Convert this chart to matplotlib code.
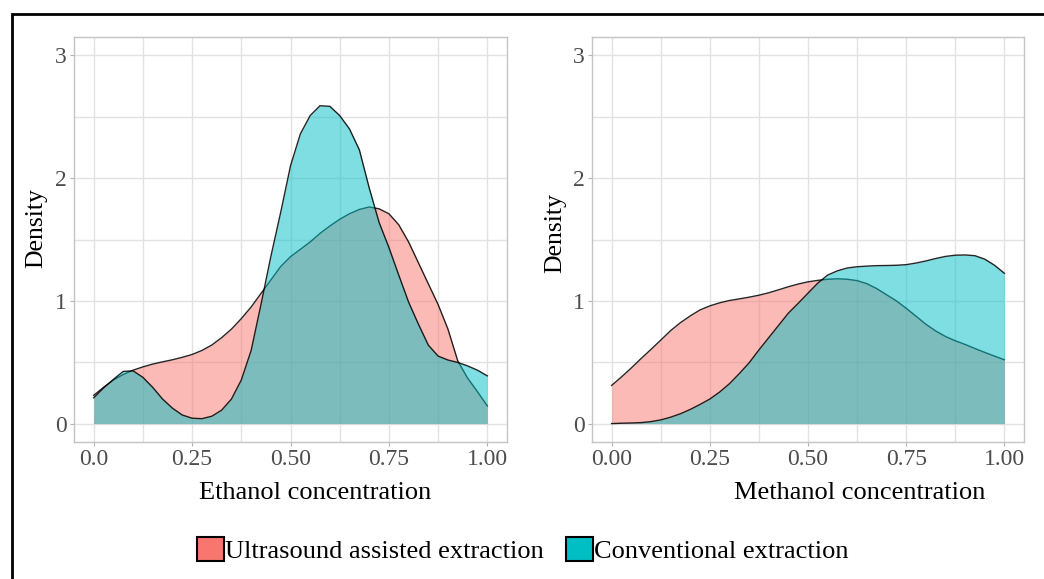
import matplotlib.pyplot as plt
import numpy as np
from matplotlib.patches import Patch, Rectangle

plt.rcParams['font.family'] = ['Liberation Serif', 'DejaVu Serif']

x_grid = np.linspace(0, 1, 41)

eth_ultrasound = [0.23, 0.295, 0.355, 0.40, 0.435, 0.462, 0.485, 0.503, 0.52, 0.54,
                  0.563, 0.596, 0.64, 0.70, 0.77, 0.855, 0.95, 1.06, 1.17, 1.28,
                  1.36, 1.42, 1.48, 1.55, 1.61, 1.665, 1.71, 1.745, 1.765, 1.75,
                  1.71, 1.62, 1.48, 1.31, 1.14, 0.97, 0.77, 0.51, 0.37, 0.26, 0.144]
eth_conventional = [0.21, 0.29, 0.36, 0.425, 0.43, 0.377, 0.295, 0.20, 0.126, 0.07,
                    0.044, 0.04, 0.06, 0.109, 0.20, 0.355, 0.596, 0.97, 1.36, 1.72,
                    2.10, 2.36, 2.51, 2.59, 2.585, 2.51, 2.40, 2.23, 1.92, 1.64,
                    1.435, 1.21, 0.99, 0.81, 0.64, 0.55, 0.518, 0.498, 0.47, 0.435, 0.389]

meth_ultrasound = [0.311, 0.38, 0.453, 0.53, 0.604, 0.68, 0.757, 0.822, 0.877, 0.926,
                   0.959, 0.984, 1.003, 1.016, 1.03, 1.046, 1.066, 1.09, 1.115, 1.137,
                   1.155, 1.167, 1.176, 1.18, 1.176, 1.165, 1.14, 1.10, 1.05, 1.0,
                   0.94, 0.875, 0.81, 0.755, 0.71, 0.675, 0.645, 0.612, 0.58, 0.55, 0.52]
meth_conventional = [0.0, 0.003, 0.005, 0.008, 0.016, 0.03, 0.052, 0.08, 0.115, 0.156,
                     0.2, 0.257, 0.325, 0.407, 0.495, 0.60, 0.70, 0.80, 0.90, 0.98,
                     1.063, 1.145, 1.21, 1.245, 1.268, 1.278, 1.283, 1.287, 1.288, 1.29,
                     1.295, 1.308, 1.325, 1.345, 1.362, 1.372, 1.374, 1.368, 1.34, 1.29, 1.225]

groups = ['Ultrasound assisted extraction', 'Conventional extraction']
colors = ['#F8766D', '#00BFC4']
x_ticks = [0, 0.25, 0.5, 0.75, 1.0]
eth_tick_labels = ['0.0', '0.25', '0.50', '0.75', '1.00']
meth_tick_labels = ['0.00', '0.25', '0.50', '0.75', '1.00']
y_ticks = [0, 1, 2, 3]

W, H = 1044, 579
fig = plt.figure(figsize=(W / 100, H / 100), dpi=100)


def px_axes(left, top, right, bottom):
    return fig.add_axes([left / W, 1 - bottom / H, (right - left) / W, (bottom - top) / H])


def draw_panel(ax, curves, tick_labels):
    for y, c in zip(curves, colors):
        ax.fill_between(x_grid, 0, y, color=c, alpha=0.5, lw=0, zorder=2)
        ax.plot(x_grid, y, color='black', lw=1.0, alpha=0.85, zorder=2,
                solid_joinstyle='round')
    ax.set_xlim(-0.05, 1.05)
    ax.set_ylim(-0.15, 3.15)
    ax.set_xticks(x_ticks)
    ax.set_xticklabels(tick_labels)
    ax.set_yticks(y_ticks)
    ax.set_xticks([0.125, 0.375, 0.625, 0.875], minor=True)
    ax.set_yticks([0.5, 1.5, 2.5], minor=True)
    ax.grid(True, which='both', color='#E2E2E2', lw=1.0, zorder=0)
    ax.set_axisbelow(True)
    ax.tick_params(which='major', length=3, width=0.8, color='#B3B3B3',
                   labelsize=17, labelcolor='#4D4D4D', pad=2)
    ax.tick_params(which='minor', length=0)
    for s in ax.spines.values():
        s.set_color('#C4C4C4')
        s.set_linewidth(1.0)


ax1 = px_axes(74, 37, 507, 442)
draw_panel(ax1, [eth_ultrasound, eth_conventional], eth_tick_labels)
ax2 = px_axes(592, 37, 1024, 442)
draw_panel(ax2, [meth_ultrasound, meth_conventional], meth_tick_labels)

# axis titles (placed where they sit in the original)
fig.text(36 / W, 1 - 228 / H, 'Density', rotation=90, ha='center', va='center', fontsize=18.5)
fig.text(555 / W, 1 - 233 / H, 'Density', rotation=90, ha='center', va='center', fontsize=18.5)
fig.text(315 / W, 1 - 493 / H, 'Ethanol concentration', ha='center', va='center', fontsize=19)
fig.text(860 / W, 1 - 493 / H, 'Methanol concentration', ha='center', va='center', fontsize=19)

handles = [Patch(facecolor=c, edgecolor='black', lw=1.5) for c in colors]
fig.legend(handles, groups, loc='center', bbox_to_anchor=(523 / W, 1 - 550 / H),
           ncol=2, frameon=False, fontsize=19, handlelength=1.0, handleheight=1.0,
           handletextpad=0.05, columnspacing=0.85, borderpad=0)

# outer frame (cut off at the right and bottom in the original)
fig.add_artist(Rectangle((12 / W, -0.2), 1.2, 1.2 - 14 / H, transform=fig.transFigure,
                         fill=False, edgecolor='black', lw=2, clip_on=False))

fig.savefig('out.png', dpi=100)
